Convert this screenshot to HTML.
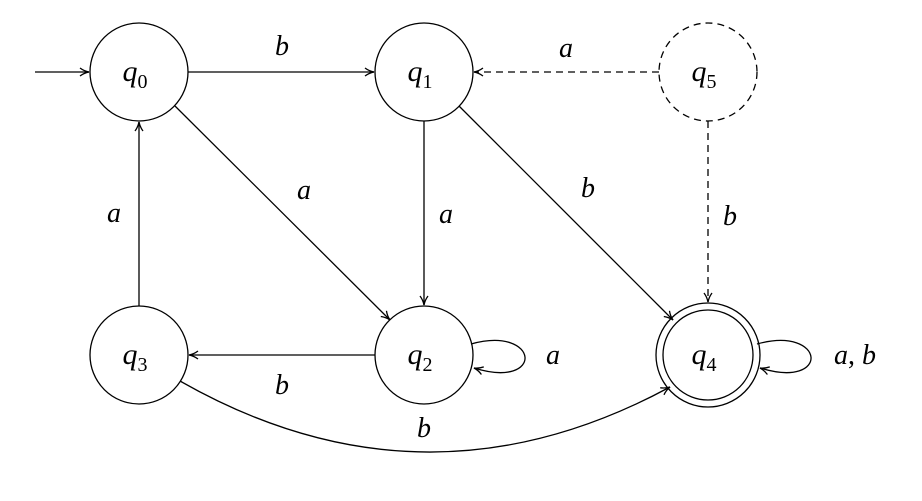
<!DOCTYPE html>
<html><head><meta charset="utf-8"><style>
html,body{margin:0;padding:0;background:#fff;}
svg text{font-family:"Liberation Serif",serif;font-style:italic;fill:#000;}
</style></head><body>
<svg width="922" height="496" viewBox="0 0 922 496" xmlns="http://www.w3.org/2000/svg">
<defs>
<marker id="ar" markerWidth="12" markerHeight="10" refX="10" refY="5" orient="auto" markerUnits="userSpaceOnUse">
<path d="M1,1 Q5,4 10,5 Q5,6 1,9" fill="none" stroke="#000" stroke-width="1.3"/>
</marker>
</defs>
<g fill="none" stroke="#000" stroke-width="1.3">
<circle cx="139" cy="72" r="49"/>
<circle cx="424" cy="72" r="49"/>
<circle cx="708" cy="72" r="49" stroke-dasharray="7,5"/>
<circle cx="139" cy="355" r="49"/>
<circle cx="424" cy="355" r="49"/>
<circle cx="708" cy="355" r="52"/>
<circle cx="708" cy="355" r="45"/>
<line x1="35" y1="72" x2="89" y2="72" marker-end="url(#ar)"/>
<line x1="188" y1="72" x2="374" y2="72" marker-end="url(#ar)"/>
<line x1="659" y1="72" x2="474" y2="72" stroke-dasharray="7,5" marker-end="url(#ar)"/>
<line x1="175" y1="106" x2="390" y2="320" marker-end="url(#ar)"/>
<line x1="424" y1="121" x2="424" y2="305" marker-end="url(#ar)"/>
<line x1="459" y1="106" x2="673" y2="320" marker-end="url(#ar)"/>
<line x1="708" y1="121" x2="708" y2="302" stroke-dasharray="7,5" marker-end="url(#ar)"/>
<line x1="139" y1="306" x2="139" y2="122" marker-end="url(#ar)"/>
<line x1="375" y1="355" x2="189" y2="355" marker-end="url(#ar)"/>
<path d="M180,381 Q424,520 670,387" marker-end="url(#ar)"/>
<path d="M471,344 C540,325 545,390 474,368" marker-end="url(#ar)"/>
<path d="M757,344 C826,325 831,390 760,368" marker-end="url(#ar)"/>
</g>
<g font-size="30" text-anchor="middle">
<text x="135" y="81">q<tspan font-size="20" dy="7" font-style="normal">0</tspan></text>
<text x="420" y="81">q<tspan font-size="20" dy="7" font-style="normal">1</tspan></text>
<text x="704" y="81">q<tspan font-size="20" dy="7" font-style="normal">5</tspan></text>
<text x="135" y="364">q<tspan font-size="20" dy="7" font-style="normal">3</tspan></text>
<text x="420" y="364">q<tspan font-size="20" dy="7" font-style="normal">2</tspan></text>
<text x="704" y="364">q<tspan font-size="20" dy="7" font-style="normal">4</tspan></text>
</g>
<g font-size="28" text-anchor="middle">
<text x="282" y="55">b</text>
<text x="566" y="57">a</text>
<text x="304" y="199">a</text>
<text x="446" y="223">a</text>
<text x="588" y="197">b</text>
<text x="730" y="225">b</text>
<text x="114" y="222">a</text>
<text x="282" y="394">b</text>
<text x="424" y="437">b</text>
<text x="553" y="364">a</text>
<text x="855" y="364">a<tspan font-style="normal">,</tspan> b</text>
</g>
</svg>
</body></html>
